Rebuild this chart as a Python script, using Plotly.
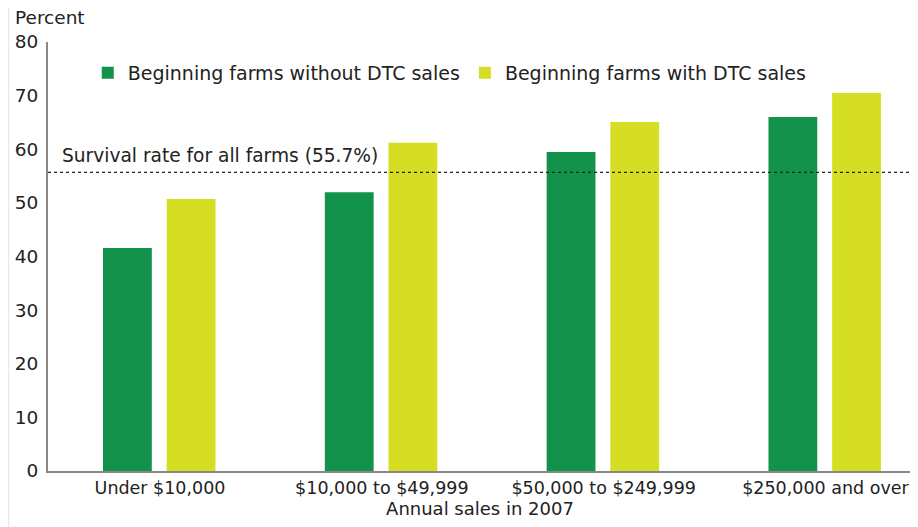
import plotly.graph_objects as go

categories = ["Under $10,000", "$10,000 to $49,999", "$50,000 to $249,999", "$250,000 and over"]
without_dtc = [41.6, 52.0, 59.5, 66.0]
with_dtc = [50.7, 61.2, 65.1, 70.5]
survival_rate = 55.7
y_ticks = [0, 10, 20, 30, 40, 50, 60, 70, 80]

GREEN = "#12924A"
YELLOW = "#D6DE23"
FONT = "DejaVu Sans, Liberation Sans, sans-serif"
TXT = "#222"

fig = go.Figure()
fig.add_trace(go.Bar(x=list(range(len(categories))), y=without_dtc, name="Beginning farms without DTC sales",
                     marker=dict(color=GREEN, line=dict(width=0)), width=0.22, offset=-0.257))
fig.add_trace(go.Bar(x=list(range(len(categories))), y=with_dtc, name="Beginning farms with DTC sales",
                     marker=dict(color=YELLOW, line=dict(width=0)), width=0.22, offset=0.03))

fig.add_shape(type="line", xref="paper", yref="y", x0=0, x1=1, y0=survival_rate, y1=survival_rate,
              line=dict(color="#222", width=1.3, dash="dot"))
fig.add_annotation(xref="paper", yref="y", x=0.014, y=survival_rate + 0.8, yanchor="bottom", xanchor="left",
                   text="Survival rate for all farms (55.7%)", showarrow=False,
                   font=dict(size=18.6, color=TXT, family=FONT))
fig.add_annotation(xref="paper", yref="paper", x=-0.04, y=1.056, xanchor="left", yanchor="middle",
                   text="Percent", showarrow=False, font=dict(size=18.5, color=TXT, family=FONT))
fig.add_shape(type="line", xref="paper", yref="paper", x0=-0.0455, x1=-0.0455, y0=-0.14, y1=1.1,
              line=dict(color="#e4e4e4", width=1))

fig.update_layout(
    width=910, height=519,
    margin=dict(l=40, r=6, t=34, b=56),
    plot_bgcolor="white", paper_bgcolor="white",
    font=dict(family=FONT, size=18, color=TXT),
    showlegend=True,
    legend=dict(orientation="h", x=0.046, y=0.928, xanchor="left", yanchor="middle",
                font=dict(size=19, family=FONT, color=TXT), bgcolor="rgba(0,0,0,0)",
                traceorder="normal"),
    xaxis=dict(tickmode="array", tickvals=list(range(len(categories))), ticktext=categories,
               range=[-0.505, 3.39], showline=True, linecolor="#888", linewidth=2,
               ticks="", showgrid=False, zeroline=False, automargin=False,
               title=dict(text="Annual sales in 2007", font=dict(size=18), standoff=4),
               tickfont=dict(size=17.5)),
    yaxis=dict(range=[0, 80], tickvals=y_ticks, showline=True, linecolor="#888", linewidth=2,
               ticks="", showgrid=False, zeroline=False, automargin=False,
               tickfont=dict(size=18.5), ticklabelstandoff=4),
)

fig.write_html("out.html")
